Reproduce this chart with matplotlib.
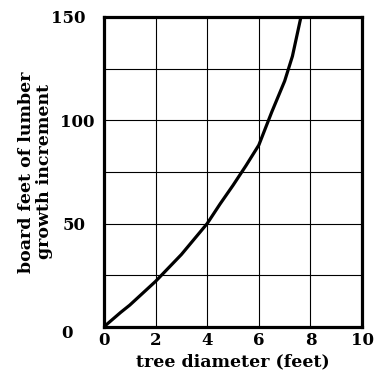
import matplotlib.pyplot as plt
import matplotlib.transforms as mtransforms

# curve
diameter = [0, 0.65, 1, 2, 3, 4, 4.5, 5, 5.5, 6, 6.5, 7, 7.3, 7.63]
board_feet = [0, 7, 10.5, 22, 35, 50, 59.5, 68.5, 78, 88, 104, 119, 131, 150]

x_ticks = [0, 2, 4, 6, 8, 10]
y_ticks = [0, 50, 100, 150]
y_minor = [25, 75, 125]

plt.rcParams['font.family'] = 'DejaVu Serif'
plt.rcParams['font.weight'] = 'bold'

fig = plt.figure(figsize=(3.89, 3.77), dpi=100)
ax = fig.add_axes([0.267, 0.133, 0.664, 0.822])

ax.plot(diameter, board_feet, color='black', linewidth=2.3,
        solid_joinstyle='round', solid_capstyle='butt')

ax.set_xlim(0, 10)
ax.set_ylim(0, 150)
ax.set_xticks(x_ticks)
ax.set_yticks(y_ticks)
ax.set_yticks(y_minor, minor=True)
ax.grid(True, which='both', color='black', linewidth=0.8)
ax.tick_params(which='both', length=0, labelsize=12)
ax.tick_params(axis='x', pad=3.5)
ax.tick_params(axis='y', pad=13)
for s in ax.spines.values():
    s.set_linewidth(2.3)

for lab in ax.get_xticklabels() + ax.get_yticklabels():
    lab.set_fontweight('bold')

# the scanned labels are not quite aligned: 0 sits lower-left, 100 further right
def nudge(lab, dx, dy):
    lab.set_transform(lab.get_transform() +
                      mtransforms.ScaledTranslation(dx / 100, dy / 100, fig.dpi_scale_trans))

ylabs = ax.get_yticklabels()
nudge(ylabs[0], -13, -4.5)
nudge(ylabs[2], 9, 0)

ax.set_xlabel('tree diameter (feet)', fontsize=12.5, fontweight='bold', labelpad=3.5)
ax.set_ylabel('board feet of lumber\ngrowth increment', fontsize=12.5,
              fontweight='bold', labelpad=-1, linespacing=1.05)

fig.savefig('out.png', dpi=100)
